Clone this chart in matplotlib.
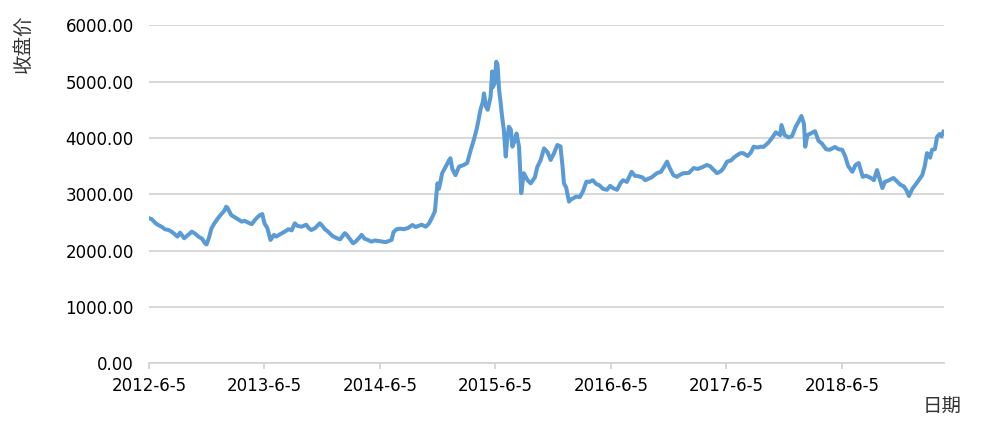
import matplotlib
matplotlib.use('Agg')
import matplotlib.pyplot as plt
import pandas as pd

# closing price (approximate)
dates = [
    '2012-06-05', '2012-06-13', '2012-06-25', '2012-07-04', '2012-07-16', '2012-07-25', '2012-08-06',
    '2012-08-17', '2012-09-03', '2012-09-11', '2012-09-24', '2012-10-09', '2012-10-18', '2012-10-29',
    '2012-11-08', '2012-11-20', '2012-11-29', '2012-12-04', '2012-12-12', '2012-12-19', '2012-12-28',
    '2013-01-09', '2013-01-18', '2013-01-28', '2013-02-04', '2013-02-08', '2013-02-20', '2013-03-01',
    '2013-03-12', '2013-03-25', '2013-04-03', '2013-04-19', '2013-04-26', '2013-05-08', '2013-05-21',
    '2013-05-29', '2013-06-05', '2013-06-14', '2013-06-24', '2013-06-28', '2013-07-05', '2013-07-12',
    '2013-07-24', '2013-08-08', '2013-08-20', '2013-08-30', '2013-09-09', '2013-09-17', '2013-09-30',
    '2013-10-15', '2013-10-23', '2013-10-31', '2013-11-12', '2013-11-27', '2013-12-05', '2013-12-13',
    '2013-12-23', '2014-01-06', '2014-01-20', '2014-01-30', '2014-02-14', '2014-02-20', '2014-03-03',
    '2014-03-12', '2014-03-20', '2014-04-01', '2014-04-08', '2014-04-18', '2014-04-28', '2014-05-09',
    '2014-05-20', '2014-06-03', '2014-06-13', '2014-06-23', '2014-07-03', '2014-07-12', '2014-07-18',
    '2014-07-28', '2014-08-08', '2014-08-20', '2014-09-01', '2014-09-16', '2014-09-26', '2014-10-15',
    '2014-10-28', '2014-11-07', '2014-11-18', '2014-11-26', '2014-12-04', '2014-12-09', '2014-12-19',
    '2014-12-31', '2015-01-09', '2015-01-14', '2015-01-20', '2015-01-30', '2015-02-10', '2015-02-25',
    '2015-03-08', '2015-03-18', '2015-03-29', '2015-04-08', '2015-04-19', '2015-04-27', '2015-04-30',
    '2015-05-07', '2015-05-12', '2015-05-21', '2015-05-26', '2015-05-28', '2015-06-03', '2015-06-08',
    '2015-06-12', '2015-06-17', '2015-06-22', '2015-06-26', '2015-07-02', '2015-07-08', '2015-07-13',
    '2015-07-18', '2015-07-24', '2015-07-29', '2015-08-05', '2015-08-11', '2015-08-19', '2015-08-26',
    '2015-09-03', '2015-09-15', '2015-09-25', '2015-10-08', '2015-10-16', '2015-10-26', '2015-11-06',
    '2015-11-17', '2015-11-27', '2015-12-07', '2015-12-18', '2015-12-28', '2016-01-04', '2016-01-08',
    '2016-01-15', '2016-01-24', '2016-01-28', '2016-02-16', '2016-02-27', '2016-03-08', '2016-03-19',
    '2016-03-29', '2016-04-08', '2016-04-20', '2016-04-29', '2016-05-11', '2016-05-23', '2016-06-02',
    '2016-06-11', '2016-06-24', '2016-07-05', '2016-07-13', '2016-07-25', '2016-08-09', '2016-08-19',
    '2016-08-31', '2016-09-12', '2016-09-21', '2016-10-11', '2016-10-28', '2016-11-10', '2016-11-21',
    '2016-11-29', '2016-12-08', '2016-12-19', '2016-12-30', '2017-01-10', '2017-01-20', '2017-02-06',
    '2017-02-21', '2017-03-06', '2017-03-20', '2017-04-04', '2017-04-14', '2017-04-24', '2017-05-06',
    '2017-05-18', '2017-05-26', '2017-06-07', '2017-06-19', '2017-06-30', '2017-07-10', '2017-07-19',
    '2017-07-28', '2017-08-11', '2017-08-21', '2017-08-30', '2017-09-11', '2017-09-21', '2017-09-30',
    '2017-10-16', '2017-10-27', '2017-11-08', '2017-11-22', '2017-11-26', '2017-12-06', '2017-12-18',
    '2017-12-29', '2018-01-10', '2018-01-19', '2018-01-28', '2018-02-05', '2018-02-09', '2018-02-16',
    '2018-02-26', '2018-03-12', '2018-03-23', '2018-04-03', '2018-04-16', '2018-04-27', '2018-05-14',
    '2018-05-25', '2018-06-06', '2018-06-15', '2018-06-25', '2018-07-08', '2018-07-18', '2018-07-28',
    '2018-08-10', '2018-08-20', '2018-09-05', '2018-09-14', '2018-09-24', '2018-10-11', '2018-10-19',
    '2018-11-01', '2018-11-15', '2018-11-26', '2018-12-07', '2018-12-18', '2018-12-27', '2019-01-03',
    '2019-01-14', '2019-01-25', '2019-02-14', '2019-02-22', '2019-03-01', '2019-03-07', '2019-03-11',
    '2019-03-17', '2019-03-26', '2019-04-02', '2019-04-10', '2019-04-16', '2019-04-22',
]
close = [
    2575, 2560, 2490, 2455, 2420, 2380, 2366,
    2330, 2250, 2320, 2220, 2290, 2337, 2300,
    2250, 2210, 2130, 2110, 2240, 2390, 2480,
    2575, 2640, 2700, 2780, 2760, 2630, 2600,
    2560, 2515, 2530, 2485, 2470, 2560, 2630,
    2650, 2485, 2400, 2190, 2220, 2280, 2250,
    2290, 2337, 2380, 2360, 2485, 2440, 2425,
    2460, 2400, 2366, 2400, 2485, 2440, 2380,
    2337, 2260, 2220, 2200, 2310, 2280, 2200,
    2130, 2160, 2230, 2280, 2210, 2190, 2160,
    2180, 2170, 2160, 2150, 2170, 2190, 2330,
    2380, 2390, 2380, 2400, 2455, 2420, 2460,
    2425, 2480, 2600, 2700, 3195, 3100, 3375,
    3500, 3600, 3640, 3450, 3340, 3490, 3520,
    3555, 3760, 3965, 4180, 4500, 4650, 4790,
    4550, 4500, 4730, 5180, 4900, 4970, 5354,
    5300, 4850, 4615, 4400, 4140, 3670, 4000,
    4200, 4150, 3845, 3950, 4080, 3845, 3020,
    3375, 3250, 3195, 3300, 3490, 3600, 3815,
    3750, 3610, 3720, 3875, 3850, 3470, 3195,
    3120, 2870, 2900, 2960, 2950, 3050, 3225,
    3220, 3250, 3180, 3160, 3095, 3080, 3150,
    3110, 3080, 3200, 3250, 3220, 3400, 3330,
    3320, 3300, 3250, 3300, 3375, 3400, 3500,
    3580, 3460, 3340, 3310, 3350, 3375, 3380,
    3465, 3450, 3480, 3520, 3500, 3440, 3375,
    3410, 3460, 3580, 3600, 3660, 3700, 3730,
    3730, 3680, 3740, 3845, 3830, 3845, 3840,
    3920, 4000, 4100, 4050, 4230, 4050, 4010,
    4030, 4200, 4290, 4390, 4250, 3845, 4050,
    4080, 4120, 3950, 3900, 3800, 3790, 3840,
    3800, 3790, 3680, 3500, 3400, 3520, 3555,
    3310, 3330, 3290, 3250, 3430, 3110, 3220,
    3250, 3290, 3230, 3170, 3140, 3060, 2970,
    3100, 3180, 3340, 3500, 3730, 3700, 3650,
    3790, 3800, 4020, 4070, 4030, 4110,
]
tick_dates = ['2012-06-05', '2013-06-05', '2014-06-05', '2015-06-05',
              '2016-06-05', '2017-06-05', '2018-06-05']
tick_labels = ['2012-6-5', '2013-6-5', '2014-6-5', '2015-6-5',
               '2016-6-5', '2017-6-5', '2018-6-5']
y_ticks = [0, 1000, 2000, 3000, 4000, 5000, 6000]

df = pd.DataFrame({'date': pd.to_datetime(dates), 'close': close})

cjk = ['Noto Sans CJK SC', 'DejaVu Sans']
grid_col = '#d4d4d4'

fig = plt.figure(figsize=(10.01, 4.36), dpi=100)
ax = fig.add_axes([0.1489, 0.1667, 0.7942, 0.7753])

ax.plot(df['date'], df['close'], color='#5b9bd5', lw=2.9, solid_joinstyle='round')

ax.set_ylim(0, 6000)
ax.set_xlim(pd.Timestamp('2012-06-05'), pd.Timestamp('2019-04-24'))
ax.set_yticks(y_ticks)
ax.set_yticklabels([f'{v:.2f}' for v in y_ticks])
ax.set_xticks(pd.to_datetime(tick_dates))
ax.set_xticklabels(tick_labels)

ax.grid(axis='y', color=grid_col, lw=1.3)
ax.set_axisbelow(True)
for s in ['top', 'right', 'left']:
    ax.spines[s].set_visible(False)
ax.spines['bottom'].set_color(grid_col)
ax.spines['bottom'].set_linewidth(1.3)
ax.tick_params(axis='y', length=0, pad=11, labelsize=12, labelcolor='black')
ax.tick_params(axis='x', length=4, width=1.3, color=grid_col, pad=6, labelsize=12, labelcolor='black')

fig.text(0.023, 0.90, '收盘价', rotation=90, ha='center', va='center', fontsize=14, family=cjk, color='#333333')
fig.text(0.941, 0.067, '日期', ha='center', va='center', fontsize=14, family=cjk, color='#333333')

fig.savefig('out.png', dpi=100, facecolor='white')
